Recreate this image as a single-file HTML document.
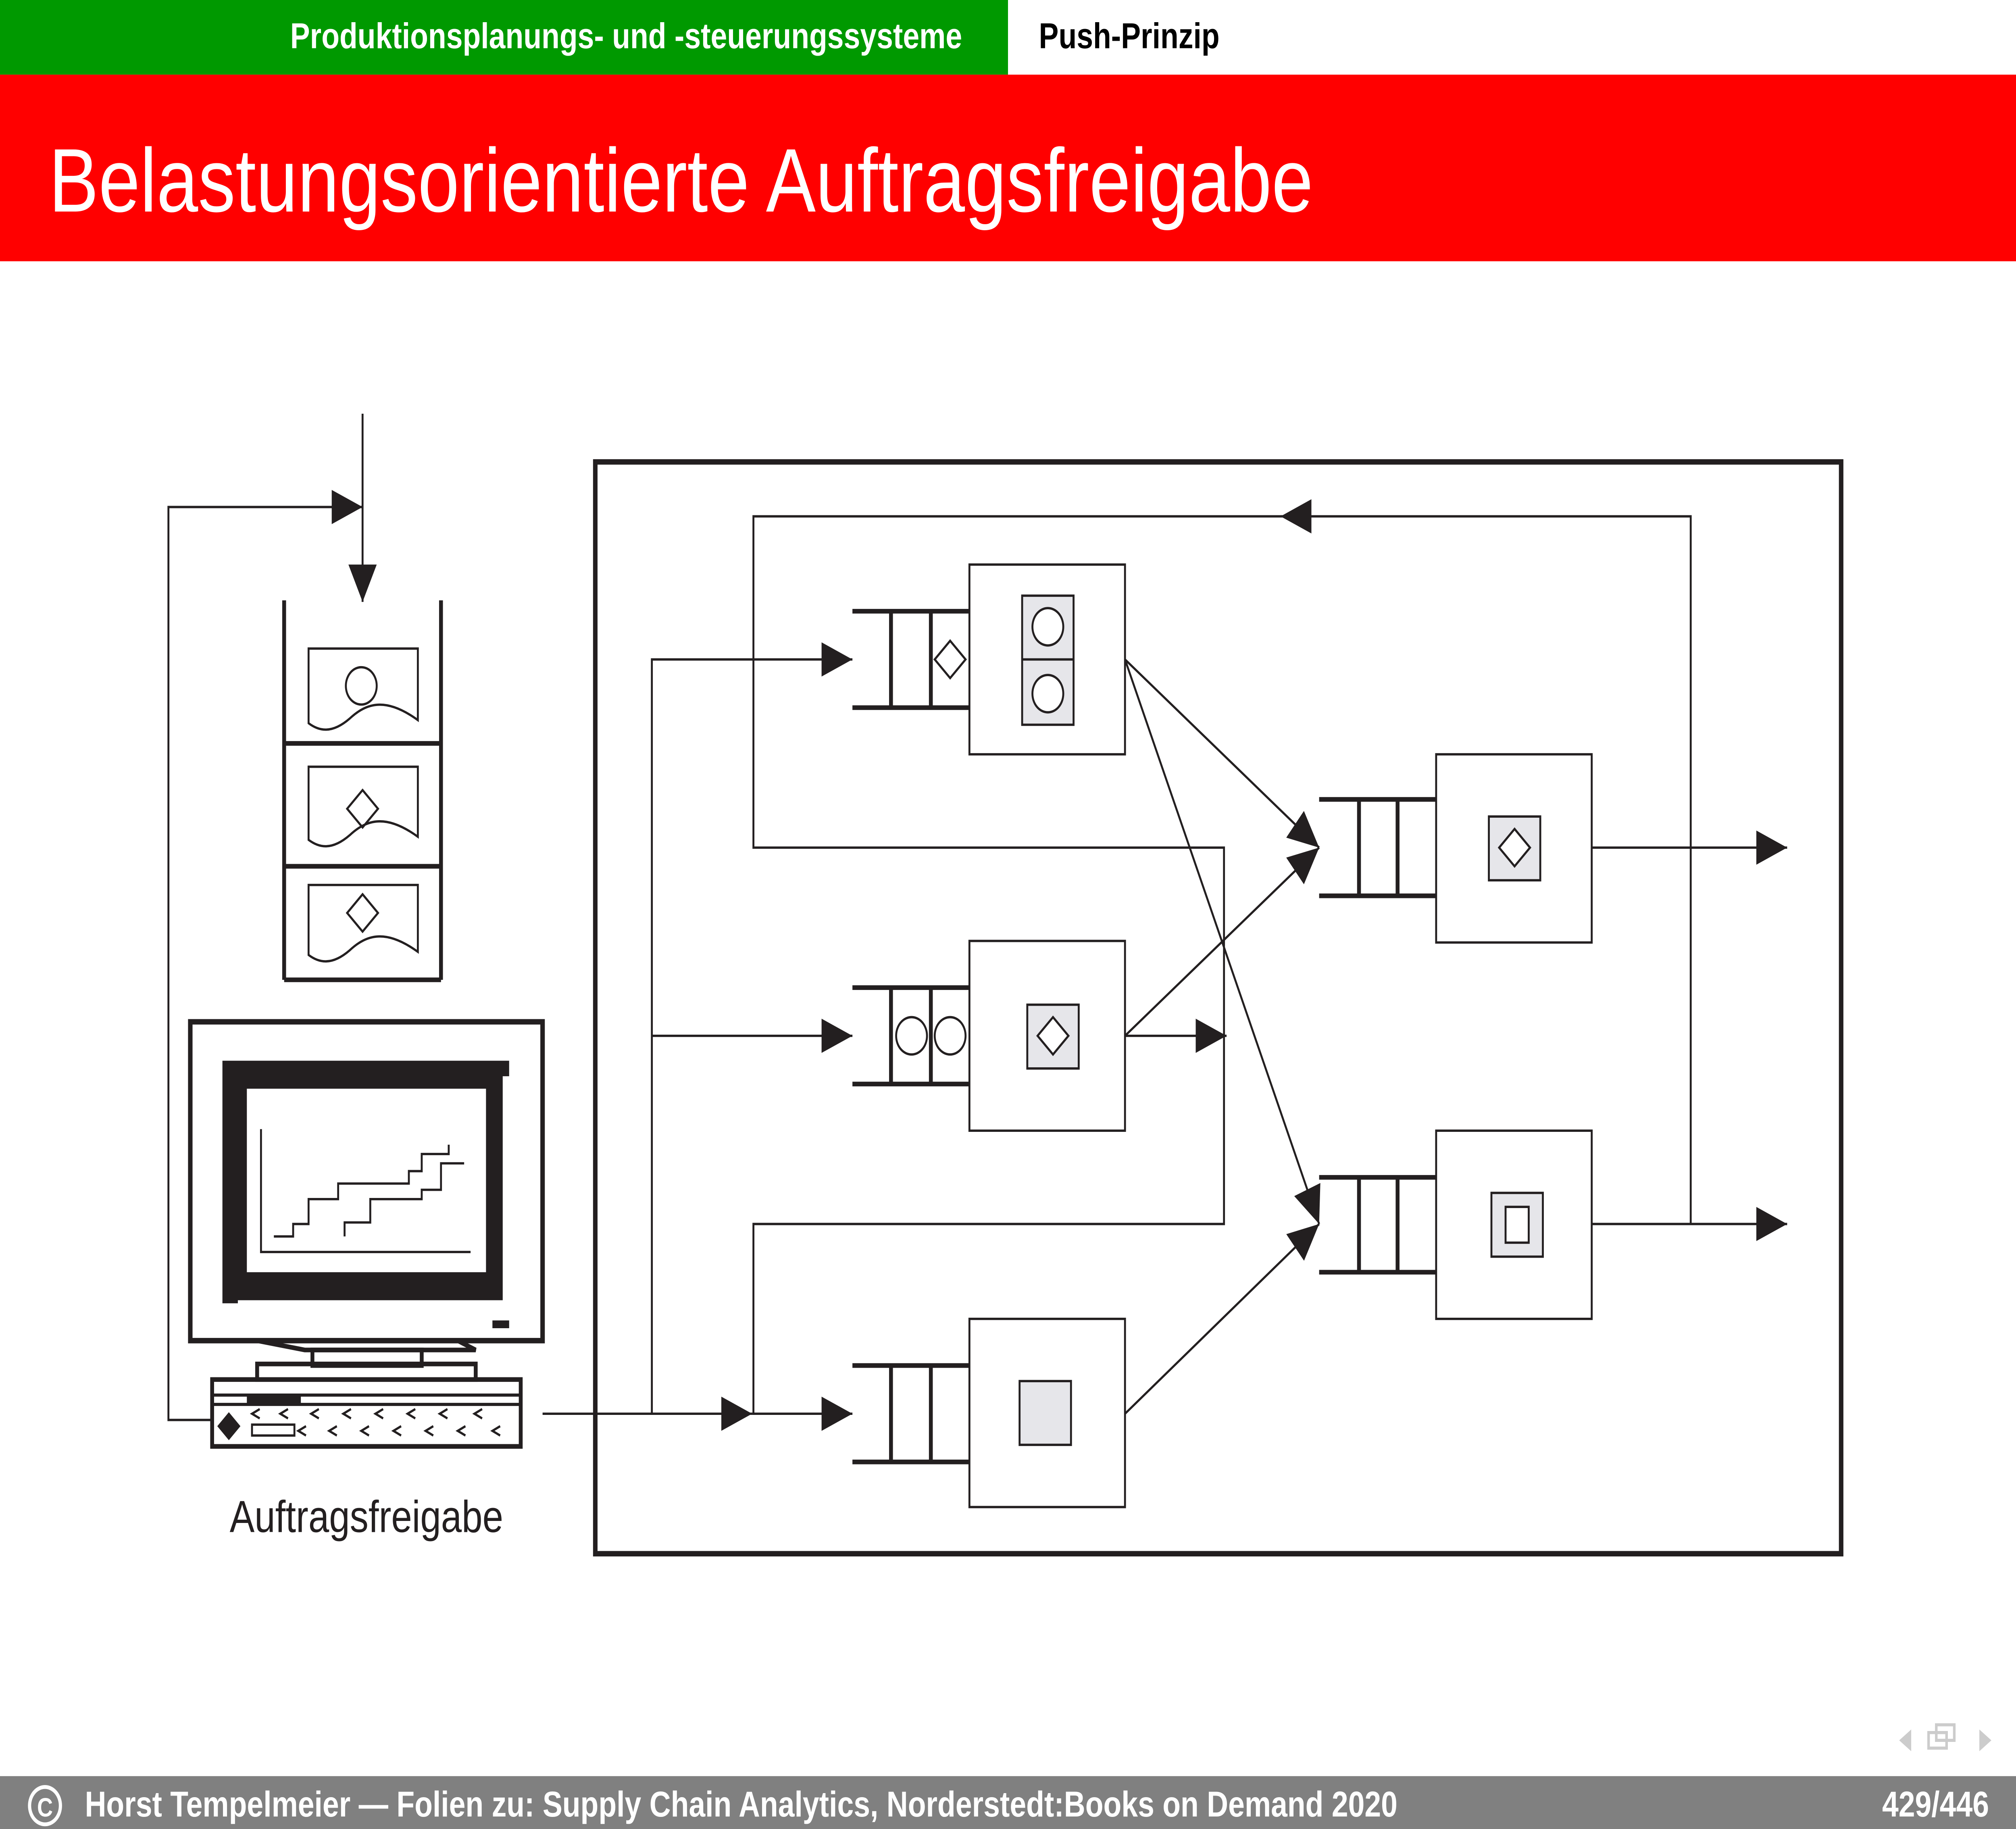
<!DOCTYPE html>
<html><head><meta charset="utf-8"><style>
html,body{margin:0;padding:0;background:#fff;overflow:hidden;width:100%;height:100%;}
svg{display:block;position:fixed;left:0;top:0;width:100vw;height:100vh;}
</style></head><body>
<svg width="100%" height="100%" viewBox="0 0 1568 1176" preserveAspectRatio="none" xmlns="http://www.w3.org/2000/svg">
<defs>
<marker id="a" markerUnits="userSpaceOnUse" markerWidth="24" markerHeight="24" viewBox="0 0 24 24" refX="24" refY="12" orient="auto">
<path d="M0,1 L24,12 L0,23 Z" fill="#231f20"/>
</marker>
</defs>
<rect width="1568" height="1176" fill="#fff"/>
<rect x="0" y="0" width="784" height="48" fill="#009900"/>
<text x="487" y="31" text-anchor="middle" font-family="Liberation Sans, sans-serif" font-weight="bold" font-size="23" fill="#fff">Produktionsplanungs- und -steuerungssysteme</text>
<text x="808" y="31" font-family="Liberation Sans, sans-serif" font-weight="bold" font-size="23" fill="#000">Push-Prinzip</text>
<rect x="0" y="48" width="1568" height="120" fill="#ff0000"/>
<text x="38" y="136" font-family="Liberation Sans, sans-serif" font-size="58" fill="#fff">Belastungsorientierte Auftragsfreigabe</text>
<rect x="0" y="1142" width="1568" height="34" fill="#808080"/>
<circle cx="35" cy="1161" r="12" fill="none" stroke="#fff" stroke-width="2.5"/>
<text x="35" y="1168" text-anchor="middle" font-family="Liberation Sans, sans-serif" font-weight="bold" font-size="17" fill="#fff">C</text>
<text x="66" y="1168" font-family="Liberation Sans, sans-serif" font-weight="bold" font-size="23" fill="#fff">Horst Tempelmeier — Folien zu: Supply Chain Analytics, Norderstedt:Books on Demand 2020</text>
<text x="1547" y="1168" text-anchor="end" font-family="Liberation Sans, sans-serif" font-weight="bold" font-size="23" fill="#fff">429/446</text>
<g fill="#ccc" stroke="#ccc"><path d="M1486,1113 L1478,1119 L1486,1125Z"/><path d="M1540,1113 L1548,1119 L1540,1125Z"/><rect x="1500" y="1114" width="14" height="10" fill="none" stroke-width="2"/><rect x="1506" y="1109" width="14" height="10" fill="none" stroke-width="2"/></g>

<g stroke="#231f20" fill="none" stroke-width="1.5">
<line x1="282" y1="266" x2="282" y2="387" marker-end="url(#a)"/>
<polyline points="165,913 131,913 131,326 282,326" marker-end="url(#a)"/>
<g stroke-width="3"><line x1="221" y1="386" x2="221" y2="630"/><line x1="343" y1="386" x2="343" y2="630"/>
<line x1="221" y1="478" x2="343" y2="478"/><line x1="221" y1="557" x2="343" y2="557"/><line x1="221" y1="630" x2="343" y2="630"/></g>
<path d="M240,417 H325 V463 C300,448 285,452 272,462 C258,472 248,470 240,465 Z"/>
<circle cx="281" cy="441" r="12"/>
<path d="M240,493 H325 V538 C300,523 285,527 272,537 C258,547 248,545 240,540 Z"/>
<path d="M282,508 L294,520 L282,532 L270,520 Z"/>
<path d="M240,569 H325 V612 C300,597 285,601 272,611 C258,621 248,619 240,614 Z"/>
<path d="M282,575 L294,587 L282,599 L270,587 Z"/>
<rect x="148" y="657" width="274" height="205" stroke-width="3.5"/>
<path d="M173,682 H396 V692 H391 V836 H185 V838 H173 Z" fill="#231f20" stroke="none"/>
<rect x="192" y="700" width="186" height="118" fill="#fff" stroke="none"/>
<polyline points="203,726 203,805 366,805"/>
<polyline points="213,795 228,795 228,787 240,787 240,771 263,771 263,761 318,761 318,753 328,753 328,742 349,742 349,736"/>
<polyline points="268,795 268,786 288,786 288,771 328,771 328,765 343,765 343,748 361,748"/>
<rect x="383" y="849" width="13" height="5" fill="#231f20" stroke="none"/>
<path d="M200,862 L237,868 H370 L356,862" stroke-width="3"/>
<rect x="243" y="868" width="85" height="10" stroke-width="3"/>
<rect x="200" y="877" width="170" height="10" stroke-width="3"/>
<rect x="165" y="887" width="240" height="43" stroke-width="3"/>
<line x1="165" y1="897" x2="405" y2="897" stroke-width="2"/>
<line x1="165" y1="903" x2="405" y2="903" stroke-width="2"/>
<rect x="192" y="897" width="42" height="6" fill="#231f20" stroke="none"/>
<path d="M178,908 L187,917 L178,926 L169,917 Z" fill="#231f20" stroke="none"/>
<rect x="196" y="916" width="33" height="7" stroke-width="1.5"/>
<g stroke-width="1.5"><path d="M202,906 L196,909 L202,912"/><path d="M224,906 L218,909 L224,912"/><path d="M248,906 L242,909 L248,912"/><path d="M273,906 L267,909 L273,912"/><path d="M298,906 L292,909 L298,912"/><path d="M323,906 L317,909 L323,912"/><path d="M348,906 L342,909 L348,912"/><path d="M375,906 L369,909 L375,912"/>
<path d="M238,917 L232,920 L238,923"/><path d="M262,917 L256,920 L262,923"/><path d="M287,917 L281,920 L287,923"/><path d="M312,917 L306,920 L312,923"/><path d="M337,917 L331,920 L337,923"/><path d="M362,917 L356,920 L362,923"/><path d="M389,917 L383,920 L389,923"/></g>
<rect x="463" y="297" width="969" height="702" stroke-width="3.5"/>
<line x1="422" y1="909" x2="585" y2="909" marker-end="url(#a)"/>
<line x1="585" y1="909" x2="663" y2="909" marker-end="url(#a)"/>
<polyline points="507,909 507,424 663,424" marker-end="url(#a)"/>
<line x1="507" y1="666" x2="663" y2="666" marker-end="url(#a)"/>
<polyline points="586,909 586,787 952,787 952,545 586,545 586,332 1315,332 1315,787"/>
<line x1="1020" y1="332" x2="996" y2="332" marker-end="url(#a)"/>
<line x1="875" y1="666" x2="954" y2="666" marker-end="url(#a)"/>
<line x1="875" y1="424" x2="1026" y2="545" marker-end="url(#a)"/>
<line x1="875" y1="424" x2="1026" y2="787" marker-end="url(#a)"/>
<line x1="875" y1="666" x2="1026" y2="545" marker-end="url(#a)"/>
<line x1="875" y1="909" x2="1026" y2="787" marker-end="url(#a)"/>
<line x1="1238" y1="545" x2="1390" y2="545" marker-end="url(#a)"/>
<line x1="1238" y1="787" x2="1390" y2="787" marker-end="url(#a)"/>
<rect x="754" y="363" width="121" height="122" fill="#fff"/>
<rect x="754" y="605" width="121" height="122" fill="#fff"/>
<rect x="754" y="848" width="121" height="121" fill="#fff"/>
<rect x="1117" y="485" width="121" height="121" fill="#fff"/>
<rect x="1117" y="727" width="121" height="121" fill="#fff"/>
<g stroke-width="3">
<path d="M663,393 H754 M663,455 H754 M693,393 V455 M724,393 V455"/>
<path d="M663,635 H754 M663,697 H754 M693,635 V697 M724,635 V697"/>
<path d="M663,878 H754 M663,940 H754 M693,878 V940 M724,878 V940"/>
<path d="M1026,514 H1117 M1026,576 H1117 M1057,514 V576 M1087,514 V576"/>
<path d="M1026,757 H1117 M1026,818 H1117 M1057,757 V818 M1087,757 V818"/>
</g>
<path d="M739,412 L751,424 L739,436 L727,424 Z"/>
<circle cx="709" cy="666" r="12"/><circle cx="739" cy="666" r="12"/>
<rect x="795" y="383" width="40" height="83" fill="#e6e6ea"/>
<line x1="795" y1="424" x2="835" y2="424"/>
<circle cx="815" cy="403" r="12" fill="#fff"/><circle cx="815" cy="446" r="12" fill="#fff"/>
<rect x="799" y="646" width="40" height="41" fill="#e6e6ea"/>
<path d="M819,654 L831,666 L819,678 L807,666 Z" fill="#fff"/>
<rect x="793" y="888" width="40" height="41" fill="#e6e6ea"/>
<rect x="1158" y="525" width="40" height="41" fill="#e6e6ea"/>
<path d="M1178,533 L1190,545 L1178,557 L1166,545 Z" fill="#fff"/>
<rect x="1160" y="767" width="40" height="41" fill="#e6e6ea"/>
<rect x="1171" y="776" width="18" height="23" fill="#fff"/>
</g>
<text x="285" y="985" text-anchor="middle" font-family="Liberation Sans, sans-serif" font-size="29" fill="#231f20">Auftragsfreigabe</text>
</svg>
</body></html>
